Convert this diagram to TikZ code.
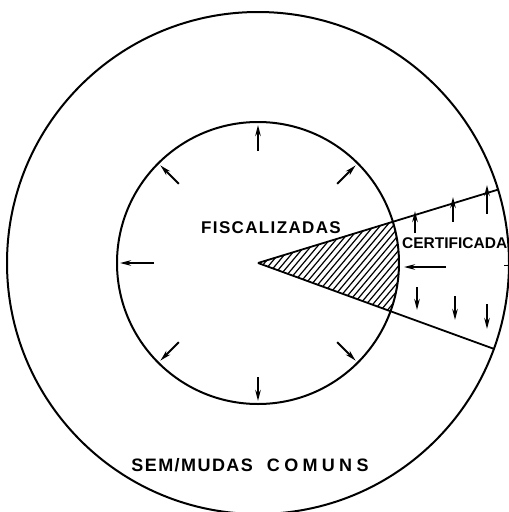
\documentclass[tikz,border=0pt]{standalone}
\usepackage{fontspec}
\setmainfont{Liberation Sans}
\newfontfamily\lblfont{Liberation Sans}[LetterSpace=8]
\newfontfamily\widefont{Liberation Sans}[LetterSpace=24]
\usetikzlibrary{arrows.meta, calc}

\begin{document}
\begin{tikzpicture}[x=1pt, y=-1pt,
  ring/.style  = {draw, line width=2pt},
  edge/.style  = {draw, line width=1.8pt},
  hatch/.style = {line width=1.2pt},
  flow/.style  = {-{Stealth[length=11pt, width=5.5pt]}, line width=2pt},
  lbl/.style   = {font=\bfseries, inner sep=0},
]
\useasboundingbox (0,0) rectangle (509,512);
\coordinate (O) at (258,263);
\def\rin{141}
\def\rout{251}
% ── circles ──
\draw[ring] (O) circle (\rout);
\draw[ring] (O) circle (\rin);
% ── wedge ──
\coordinate (wu) at ($(O)+(20:\rout)$);
\coordinate (wl) at ($(O)+(-17:\rout)$);
\begin{scope}
  \clip (O) -- ($(O)+(20:\rin)$) arc (20:-17:\rin) -- cycle;
  \foreach \s in {-8,...,30}
    \draw[hatch] ([shift={(\s*6.5,0)}]O) ++(-120,143) -- ++(240,-286);
\end{scope}
\draw[edge] (O) -- (wu);
\draw[edge] (O) -- (wl);
% ── inner ticks ──
\foreach \a/\r in {45/112, 90/114, 135/112, 180/104, 225/112, 270/112, 315/112}
  \draw[flow] ($(O)+(\a:\r)$) -- ($(O)+(\a:138)$);
% ── certified band ──
\foreach \x/\ya/\yb in {415/233/211, 453/222/197, 487/214/185}
  \draw[flow] (\x,\ya) -- (\x,\yb);
\foreach \x/\ya/\yb in {417/287/310, 455/296/320, 487/304/329}
  \draw[flow] (\x,\ya) -- (\x,\yb);
\draw[flow] (446,267) -- (404,267);
\draw[line width=1pt] (504,265) -- (509,265);
% ── labels ──
\node[lbl, font=\lblfont\bfseries\fontsize{17}{17}\selectfont] (fisc) at (271,228) {FISCALIZADAS};
\node[lbl, font=\bfseries\fontsize{15.5}{15.5}\selectfont, anchor=west] (cert) at (402,243) {CERTIFICADA};
\node[lbl, font=\bfseries\fontsize{18}{18}\selectfont] (comuns) at (250,465)
  {{\lblfont SEM/MUDAS}\hspace{14pt}{\widefont COMUNS}};
\end{tikzpicture}
\end{document}
